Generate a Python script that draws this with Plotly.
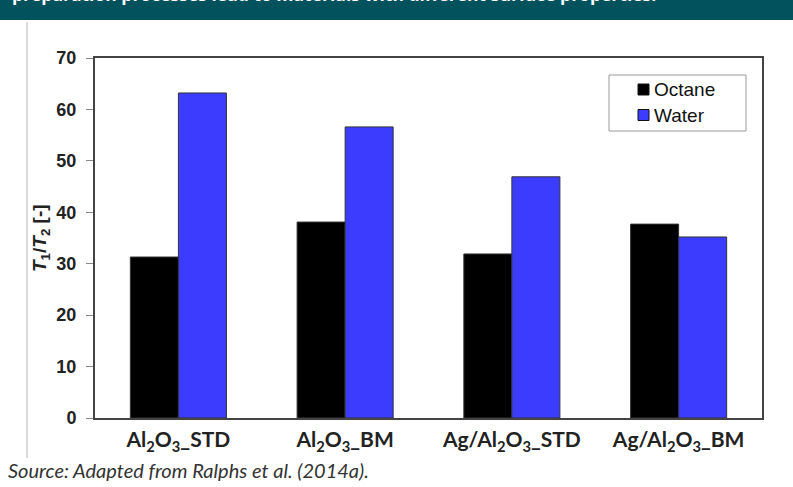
import plotly.graph_objects as go

# Relaxation time ratio T1/T2 for each catalyst support and probe liquid
categories = [
    "Al<sub>2</sub>O<sub>3</sub>_STD",
    "Al<sub>2</sub>O<sub>3</sub>_BM",
    "Ag/Al<sub>2</sub>O<sub>3</sub>_STD",
    "Ag/Al<sub>2</sub>O<sub>3</sub>_BM",
]
octane = [31.3, 38.1, 31.9, 37.7]
water = [63.2, 56.6, 46.9, 35.2]
y_ticks = [0, 10, 20, 30, 40, 50, 60, 70]
series_names = ["Octane", "Water"]
series_colors = ["#000000", "#3c3cff"]

heading = "preparation processes lead to materials with different surface properties."
source = "Source: Adapted from Ralphs et al. (2014a)."

W, H = 793, 487
ML, MR, MT, MB = 95, 31, 58, 69
PW, PH = W - ML - MR, H - MT - MB


def px_x(p):
    return (p - ML) / PW


def px_y(p):
    return (H - MB - p) / PH


fig = go.Figure()
for name, vals, col in zip(series_names, [octane, water], series_colors):
    fig.add_trace(go.Bar(
        x=categories, y=vals, name=name,
        marker=dict(color=col, line=dict(color="#333333", width=1)),
    ))

shapes = [
    # heading band across the top
    dict(type="rect", xref="paper", yref="paper",
         x0=px_x(0), x1=px_x(W), y0=px_y(20), y1=px_y(-2),
         fillcolor="#02525e", line=dict(width=0), layer="below"),
    # thin rule on the left of the panel
    dict(type="line", xref="paper", yref="paper",
         x0=px_x(27), x1=px_x(27), y0=px_y(22), y1=px_y(458),
         line=dict(color="#cfcfcf", width=1.5)),
    # legend frame
    dict(type="rect", xref="paper", yref="paper",
         x0=px_x(609), x1=px_x(746), y0=px_y(131), y1=px_y(75),
         fillcolor="white", line=dict(color="#9a9a9a", width=1)),
]

annotations = [
    dict(text=f"<b>{heading}</b>", xref="paper", yref="paper",
         x=px_x(10), y=px_y(8), xanchor="left", yanchor="bottom",
         showarrow=False, font=dict(family="Open Sans", size=17.5, color="#ffffff")),
    dict(text=f"<i>{source}</i>", xref="paper", yref="paper",
         x=px_x(6), y=px_y(470), xanchor="left", yanchor="middle",
         showarrow=False, font=dict(family="Lato", size=20, color="#333333")),
    dict(text="<b><i>T</i><sub>1</sub>/<i>T</i><sub>2</sub> [-]</b>",
         xref="paper", yref="paper", x=px_x(41), y=0.5, textangle=-90,
         xanchor="center", yanchor="middle", showarrow=False,
         font=dict(family="Liberation Sans", size=19, color="#222222")),
]

# legend entries: swatch plus label
legend_rows = [89.5, 115]
for name, col, yc in zip(series_names, series_colors, legend_rows):
    shapes.append(dict(
        type="rect", xref="paper", yref="paper",
        x0=px_x(638), x1=px_x(649), y0=px_y(yc + 5.5), y1=px_y(yc - 5.5),
        fillcolor=col, line=dict(color="#111111", width=1),
    ))
    annotations.append(dict(
        text=name, xref="paper", yref="paper", x=px_x(652), y=px_y(yc),
        xanchor="left", yanchor="middle", showarrow=False,
        font=dict(family="Liberation Sans", size=19, color="#111111"),
    ))

fig.update_layout(
    width=W, height=H,
    margin=dict(l=ML, r=MR, t=MT, b=MB),
    paper_bgcolor="white", plot_bgcolor="white",
    barmode="group", bargap=0.424, bargroupgap=0,
    shapes=shapes, annotations=annotations,
    showlegend=False,
    xaxis=dict(
        showline=True, linecolor="#444444", linewidth=2, mirror=True,
        ticks="", showgrid=False,
        tickvals=categories, ticktext=[f"<b>{c}</b>" for c in categories],
        tickfont=dict(family="Lato", size=21, color="#222222"),
        ticklabelstandoff=2,
    ),
    yaxis=dict(
        range=[0, 70], tickvals=y_ticks,
        ticktext=[f"<b>{v}</b>" for v in y_ticks],
        showline=True, linecolor="#444444", linewidth=2, mirror=True,
        ticks="outside", ticklen=7, tickcolor="#888888", tickwidth=1,
        showgrid=False, zeroline=False,
        tickfont=dict(family="Liberation Sans", size=18, color="#222222"),
        ticklabelstandoff=6,
    ),
)

fig.write_html("out.html")
